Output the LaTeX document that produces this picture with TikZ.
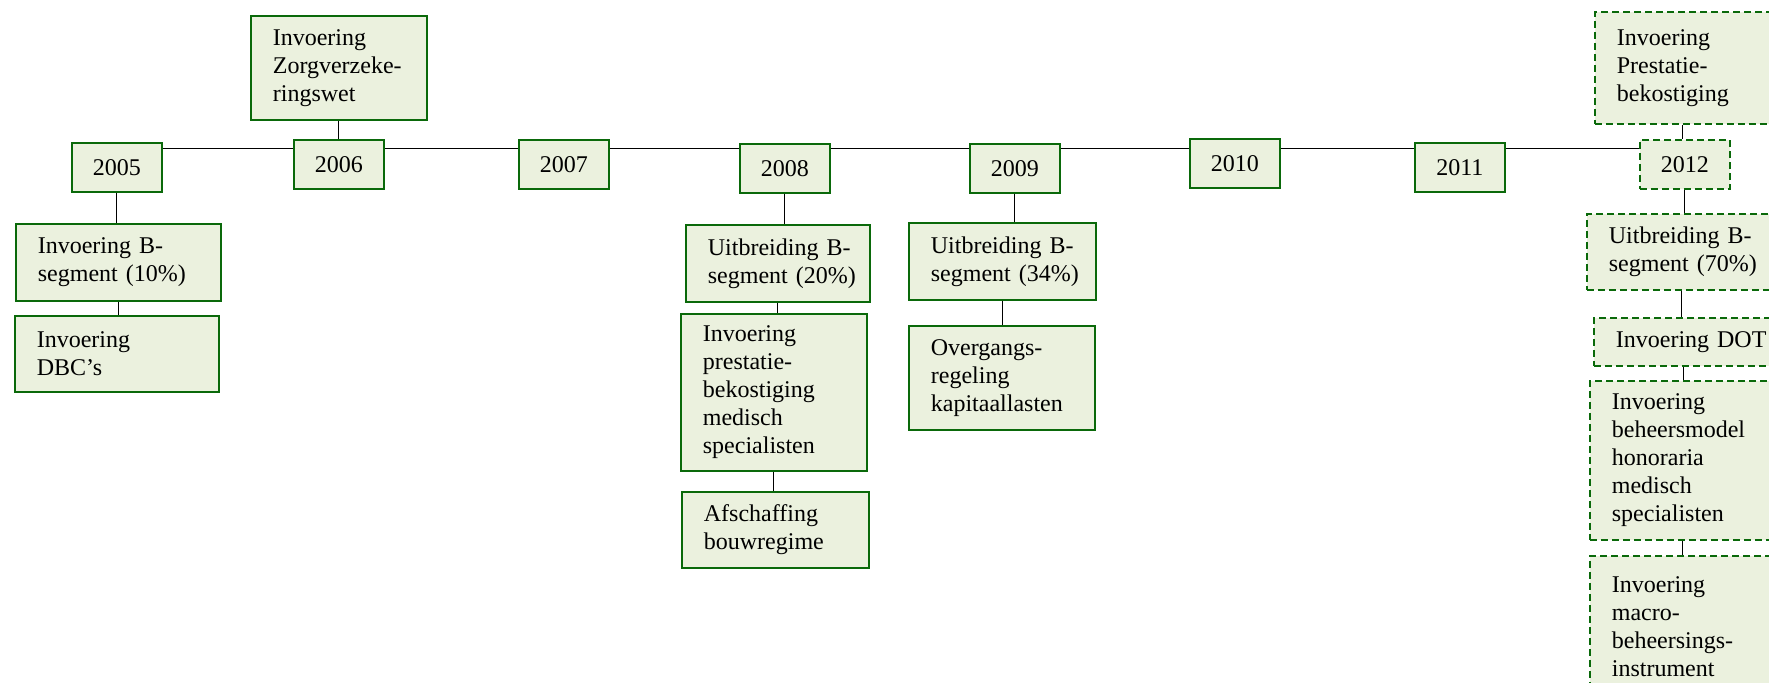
\documentclass[tikz,border=0pt]{standalone}
\usepackage{fontspec}
\setmainfont{Liberation Serif}
\definecolor{boxline}{RGB}{10,105,10}
\definecolor{boxfill}{RGB}{235,241,222}

\begin{document}
\begin{tikzpicture}[
        x=0.5pt,
        y=-0.5pt,
        yr/.style={draw=boxline, fill=boxfill, line width=0.85pt, anchor=north west,
            minimum width=45pt, minimum height=24.5pt, inner sep=0pt,
            font=\fontsize{12pt}{14pt}\selectfont},
        ev/.style 2 args={draw=boxline, fill=boxfill, line width=0.85pt, anchor=north west,
            align=left, inner xsep=11pt, inner ysep=0pt,
            minimum width=#1, text width=#1-22pt, minimum height=#2,
            font=\fontsize{12pt}{14pt}\selectfont,
            execute at begin node={\hyphenpenalty=10000 \exhyphenpenalty=10000 }},
        plan/.style={dash pattern=on 3.5pt off 2pt},
        link/.style={line width=0.5pt, black}
    ]
    \path[use as bounding box, clip] (0,0) rectangle (1769,683);

    \coordinate (tl0) at (162,149);
    \coordinate (tl1) at (1639,149);
    \draw[link] (tl0) -- (tl1);

    \node[yr] (y2005) at (71,142) {2005};
    \node[yr] (y2006) at (293,139) {2006};
    \node[yr] (y2007) at (518,139) {2007};
    \node[yr] (y2008) at (739,143) {2008};
    \node[yr] (y2009) at (969,143) {2009};
    \node[yr] (y2010) at (1189,138) {2010};
    \node[yr] (y2011) at (1414,142) {2011};
    \node[yr, plan] (y2012) at (1639,139) {2012};

    \node[ev={88pt}{52pt}] (zorg) at (250,15) {Invoering\\Zorgverzeke-\\ringswet};

    \node[ev={102.5pt}{38.5pt}] (b10) at (15,223) {Invoering~B-\\segment~(10\%)};
    \node[ev={102pt}{38pt}] (dbc) at (14,315) {Invoering\\DBC’s};

    \node[ev={92pt}{38.5pt}] (b20) at (685,224) {Uitbreiding~B-\\segment~(20\%)};
    \node[ev={93pt}{78.5pt}] (pbms) at (680,313) {Invoering\\prestatie-\\bekostiging\\medisch\\specialisten};
    \node[ev={93.5pt}{38pt}] (afsch) at (681,491) {Afschaffing\\bouwregime};

    \node[ev={93.5pt}{38.5pt}] (b34) at (908,222) {Uitbreiding~B-\\segment~(34\%)};
    \node[ev={93pt}{52pt}] (overg) at (908,325) {Overgangs-\\regeling\\kapitaallasten};

    \node[ev={88pt}{56pt}, plan] (pb12) at (1594,11) {Invoering\\Prestatie-\\bekostiging};
    \node[ev={95pt}{38pt}, plan] (b70) at (1586,213) {Uitbreiding~B-\\segment~(70\%)};
    \node[ev={90pt}{24pt}, plan] (dot) at (1593,317) {Invoering~DOT};
    \node[ev={92.5pt}{79.5pt}, plan] (bhm) at (1589,380) {Invoering\\beheersmodel\\honoraria\\medisch\\specialisten};
    \node[ev={92.5pt}{71pt}, plan] (macro) at (1589,555) {Invoering\\macro-\\beheersings-\\instrument};

    \draw[link] (zorg.south) -- (zorg.south |- y2006.north);
    \draw[link] (y2005.south) -- (y2005.south |- b10.north);
    \draw[link] (b10.south) -- (b10.south |- dbc.north);
    \draw[link] (y2008.south) -- (y2008.south |- b20.north);
    \draw[link] (b20.south) -- (b20.south |- pbms.north);
    \draw[link] (pbms.south) -- (pbms.south |- afsch.north);
    \draw[link] (y2009.south) -- (y2009.south |- b34.north);
    \draw[link] (b34.south) -- (b34.south |- overg.north);
    \draw[link] (pb12.south) -- (pb12.south |- y2012.north);
    \draw[link] (y2012.south) -- (y2012.south |- b70.north);
    \draw[link] (b70.south) -- (b70.south |- dot.north);
    \draw[link] (dot.south) -- (dot.south |- bhm.north);
    \draw[link] (bhm.south) -- (bhm.south |- macro.north);
\end{tikzpicture}
\end{document}
